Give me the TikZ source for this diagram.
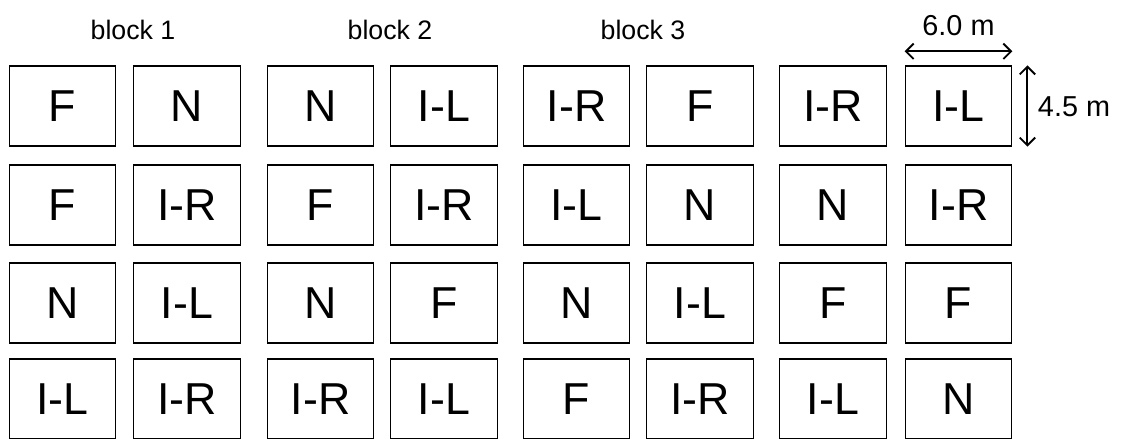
\documentclass[tikz,border=0pt]{standalone}
\usepackage{fontspec}
\setmainfont{Liberation Sans}
\usetikzlibrary{positioning,arrows.meta}

\tikzset{
  plotbox/.style={draw,line width=0.9pt,minimum width=2.66cm,minimum height=2cm,inner sep=0pt,
    font=\fontsize{31.8}{36}\selectfont},
  blocklabel/.style={font=\fontsize{19}{22}\selectfont},
  dimlabel/.style={font=\fontsize{20.5}{23}\selectfont},
  dimline/.style={{Straight Barb[length=5.5pt,width=11pt]}-{Straight Barb[length=5.5pt,width=11pt]},line width=1.3pt},
}

\begin{document}
\begin{tikzpicture}[x=0.025cm,y=-0.025cm]
\useasboundingbox (0,0) rectangle (1121,439);
% Plots, row by row
\foreach \y/\d [count=\ri] in {
106/{F,N,N,I-L,I-R,F,I-R,I-L},205/{F,I-R,F,I-R,I-L,N,N,I-R},
303/{N,I-L,N,F,N,I-L,F,F},399/{I-L,I-R,I-R,I-L,F,I-R,I-L,N}}{
\foreach \t [count=\ci] in \d {
\pgfmathsetmacro{\x}{{62.5,187,320.5,444,576.5,700,833,958.5}[\ci-1]}
\node[plotbox] (p\ri\ci) at (\x,\y) {\t};}}
% Block names
\node[blocklabel] (b1) at (133,30) {block 1};
\node[blocklabel] (b2) at (390,30) {block 2};
\node[blocklabel] (b3) at (643,30) {block 3};
% Plot size
\draw[dimline] ([yshift=10pt]p18.north west) -- ([yshift=10pt]p18.north east);
\node[dimlabel] (wd) at (958.5,26) {6.0 m};
\draw[dimline] ([xshift=10.7pt]p18.north east) -- ([xshift=10.7pt]p18.south east);
\node[dimlabel,anchor=west] (ht) at (1033,107) {4.5 m};
\end{tikzpicture}
\end{document}
